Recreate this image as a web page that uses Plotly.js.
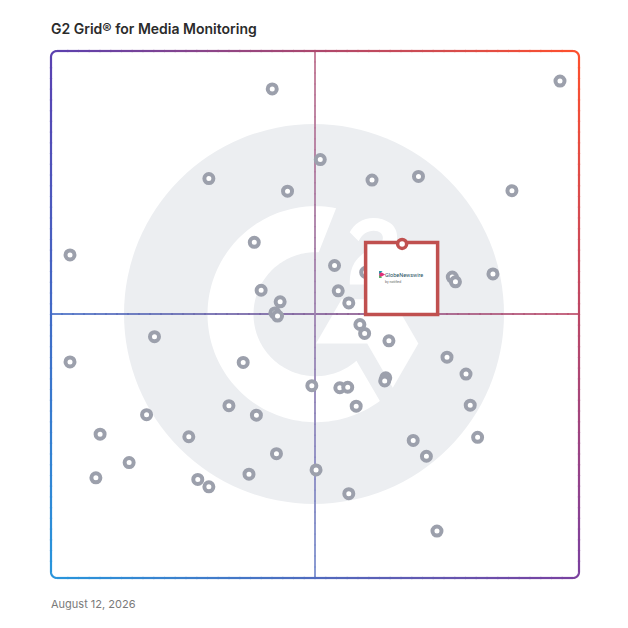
<!DOCTYPE html>
<html><head><meta charset="utf-8">
<script src="https://cdn.plot.ly/plotly-3.0.1.min.js"></script>
<style>html,body{margin:0;padding:0;background:#fff;}#chart{width:628px;height:628px;}</style>
</head><body><div id="chart"></div>
<script>
// ---- data (0-100 scale: x = satisfaction, y = market presence) ----
const productX = [96.4,41.9,51.0,29.9,44.8,60.8,69.6,87.3,38.5,3.6,53.7,59.6,76.0,76.6,83.7,54.4,39.8,43.4,56.4,42.4,42.9,19.6,58.5,59.4,64.0,3.6,36.4,75.0,78.6,63.4,63.2,49.4,54.7,56.2,57.8,33.7,38.9,18.1,79.4,9.3,26.1,68.6,80.8,71.1,42.7,14.8,50.2,8.5,27.8,29.9,37.5,56.4,73.1];
const productY = [94.3,92.8,79.4,75.8,73.4,75.5,76.2,73.5,63.7,61.3,59.3,58.0,57.1,56.2,57.7,54.5,54.6,52.4,52.2,50.3,49.7,45.8,48.1,46.4,45.0,41.0,40.9,41.9,38.7,38.0,37.4,36.5,36.1,36.2,32.6,32.7,30.9,31.0,32.8,27.3,26.8,26.1,26.7,23.1,23.6,21.9,20.5,19.0,18.7,17.3,19.7,16.0,8.9];
const highlightName = ['GlobeNewswire'];
const highlightSub = ['by notified'];
const highlightX = [66.5];
const highlightY = [63.4];
const titleText = 'G2 Grid® for Media Monitoring';
const dateText = 'August 12, 2026';

// ---- pixel <-> data helpers (frame 51..579 x 51..578) ----
const FL=51, FR=579, FT=51, FB=578;
const sx=(FR-FL)/100, sy=(FB-FT)/100;
const dx = p => (p-FL)/sx;
const dy = p => (FB-p)/sy;
const pxOf = x => FL + x*sx;
const pyOf = y => FB - y*sy;
const P = (x,y) => dx(x).toFixed(3)+','+dy(y).toFixed(3);
const poly = pts => 'M'+pts.map(p=>P(p[0],p[1])).join(' L')+' Z';
// paper coords (plot area 41..589 x 41..588)
const ppx = p => (p-41)/548, ppy = p => (588-p)/547;

const shapes=[];

// ---- G2 watermark ----
shapes.push({type:'circle',layer:'below',xref:'x',yref:'y',x0:dx(124),x1:dx(504),y0:dy(504),y1:dy(124),fillcolor:'#eceef1',line:{width:0}});
(function(){
  const cx=315.5, cy=314.2, R=108, r=62;
  const pts=[];
  for(let a=-79;a>=-306.6;a-=2){const t=a*Math.PI/180;pts.push([cx+R*Math.cos(t),cy+R*Math.sin(t)]);}
  {const t=-306.6*Math.PI/180;pts.push([cx+R*Math.cos(t),cy+R*Math.sin(t)]);}
  for(let a=-311.3;a<=-87;a+=2){const t=a*Math.PI/180;pts.push([cx+r*Math.cos(t),cy+r*Math.sin(t)]);}
  {const t=-87*Math.PI/180;pts.push([cx+r*Math.cos(t),cy+r*Math.sin(t)]);}
  shapes.push({type:'path',layer:'below',xref:'x',yref:'y',path:poly(pts),fillcolor:'#ffffff',line:{width:0}});
})();
// logo-unit mapping
const LX = u => 316 + (u-99.87)*1.81;
const LY = v => 343.5 + (v-117.32)*1.81;
const LP = (u,v) => P(LX(u),LY(v));
shapes.push({type:'path',layer:'below',xref:'x',yref:'y',fillcolor:'#ffffff',line:{width:0},
  path:'M'+[[142.29,92.84],[114.01,92.84],[99.87,117.32],[128.15,117.32],[142.29,141.82],[156.43,117.32]].map(p=>LP(p[0],p[1])).join(' L')+' Z'});
(function(){
  const segs=[
    ['M',[144.57,77.6]],['L',[127.47,77.6]],
    ['C',[127.93,74.92,129.59,73.42,132.95,71.72]],['L',[136.09,70.12]],
    ['C',[141.71,67.24,144.71,63.98,144.71,58.66]],
    ['C',[144.71,55.4,143.4,52.6,140.83,50.76]],
    ['C',[138.29,48.86,135.17,47.92,131.57,47.92]],
    ['C',[128.7,47.92,126,48.7,123.71,50.16]],
    ['C',[121.5,51.6,119.7,53.5,118.51,55.84]],
    ['L',[123.45,60.8]],
    ['C',[125.37,56.92,128.15,55.02,131.81,55.02]],
    ['C',[134.91,55.02,136.81,56.62,136.81,58.84]],
    ['C',[136.81,60.7,135.89,62.24,132.33,64.04]],
    ['L',[130.31,65.04]],
    ['C',[125.93,67.26,122.89,69.8,121.13,72.68]],
    ['C',[119.37,75.56,118.51,79.18,118.51,83.54]],
    ['L',[118.51,84.74]],['L',[144.35,84.74]],['L',[144.35,77.6]]
  ];
  let d='';
  segs.forEach(s=>{const n=s[1];const parts=[];for(let i=0;i<n.length;i+=2)parts.push(LP(n[i],n[i+1]));d+=s[0]+parts.join(' ')+' ';});
  d+='Z';
  shapes.push({type:'path',layer:'below',xref:'x',yref:'y',path:d,fillcolor:'#ffffff',line:{width:0}});
})();

// ---- gradient frame ----
const cTL=[90,64,176], cTR=[255,80,44], cBL=[40,150,220], cBR=[122,64,160];
function grad(u,v,a){
  let c=[0,1,2].map(i=>(1-u)*(1-v)*cTL[i]+u*(1-v)*cTR[i]+(1-u)*v*cBL[i]+u*v*cBR[i]);
  if(a!=null) c=c.map(k=>255-(255-k)*a);
  return 'rgb('+c.map(Math.round).join(',')+')';
}
const uOf = x => (x-FL)/(FR-FL), vOf = y => (y-FT)/(FB-FT);
function gradLine(x0,y0,x1,y1,n,w,alpha){
  const L=Math.hypot(x1-x0,y1-y0), ex=(x1-x0)/L*0.7, ey=(y1-y0)/L*0.7;
  for(let i=0;i<n;i++){
    const a=i/n,b=(i+1)/n;
    let xa=x0+(x1-x0)*a, ya=y0+(y1-y0)*a, xb=x0+(x1-x0)*b, yb=y0+(y1-y0)*b;
    const col=grad(uOf((xa+xb)/2),vOf((ya+yb)/2),alpha);
    if(i>0){xa-=ex;ya-=ey;}
    if(i<n-1){xb+=ex;yb+=ey;}
    shapes.push({type:'line',layer:'below',xref:'x',yref:'y',x0:dx(xa),y0:dy(ya),x1:dx(xb),y1:dy(yb),
      line:{color:col,width:w}});
  }
}
// quadrant lines
gradLine(FL,314,FR,314,48,1.7,0.97);
gradLine(315,FT,315,FB,48,1.8,0.75);
const rad=6, bw=2.2;
gradLine(FL+rad,FT,FR-rad,FT,48,bw);
gradLine(FR,FT+rad,FR,FB-rad,48,bw);
gradLine(FR-rad,FB,FL+rad,FB,48,bw);
gradLine(FL,FB-rad,FL,FT+rad,48,bw);
function corner(cx,cy,a0,a1){
  const pts=[];
  for(let k=0;k<=10;k++){const t=(a0+(a1-a0)*k/10)*Math.PI/180;pts.push([cx+rad*Math.cos(t),cy+rad*Math.sin(t)]);}
  shapes.push({type:'path',layer:'below',xref:'x',yref:'y',path:'M'+pts.map(p=>P(p[0],p[1])).join(' L'),
    fillcolor:'rgba(0,0,0,0)',line:{color:grad(uOf(cx),vOf(cy)),width:bw}});
}
corner(FL+rad,FT+rad,180,270);
corner(FR-rad,FT+rad,270,360);
corner(FR-rad,FB-rad,0,90);
corner(FL+rad,FB-rad,90,180);

// ---- highlighted product box (offset in pixels from its pin) ----
const hpx = pxOf(highlightX[0]), hpy = pyOf(highlightY[0]);
const boxX=[dx(hpx-0.5)], boxY=[dy(hpy+34.5)];
// tiny GlobeNewswire icon
[[[hpx-23,hpy+27],[hpx-17,hpy+30.5],[hpx-23,hpy+34],'#e0307a'],
 [[hpx-23,hpy+27],[hpx-19.5,hpy+27],[hpx-23,hpy+30],'#1a9aa8'],
 [[hpx-23,hpy+31],[hpx-20,hpy+34],[hpx-23,hpy+34],'#4cb860']].forEach(t=>{
  shapes.push({type:'path',layer:'above',xref:'x',yref:'y',path:poly([t[0],t[1],t[2]]),fillcolor:t[3],line:{width:0}});
});

const traces=[
  {type:'scatter',mode:'markers',x:productX,y:productY,hoverinfo:'skip',
   marker:{size:9,color:'#ffffff',line:{color:'#9ca0ac',width:4}}},
  {type:'scatter',mode:'markers',x:boxX,y:boxY,hoverinfo:'skip',
   marker:{symbol:'square',size:72,color:'#ffffff',line:{color:'#c0504f',width:3.5}}},
  {type:'scatter',mode:'markers',x:highlightX,y:highlightY,text:highlightName,hoverinfo:'text',
   marker:{size:9,color:'#ffffff',line:{color:'#c0504f',width:3.5}}}
];

const annotations=[
  {xref:'paper',yref:'paper',x:ppx(49),y:ppy(29),xanchor:'left',yanchor:'middle',showarrow:false,text:titleText,
   font:{family:'Inter, "Noto Sans", sans-serif',size:14,weight:600,color:'#2b2b2b'}},
  {xref:'paper',yref:'paper',x:ppx(49),y:ppy(604),xanchor:'left',yanchor:'middle',showarrow:false,text:dateText,
   font:{family:'Inter, "Noto Sans", sans-serif',size:11,color:'#7a7a7a'}},
  {xref:'x',yref:'y',x:highlightX[0],y:highlightY[0],xshift:2,yshift:-31,xanchor:'center',yanchor:'middle',showarrow:false,
   text:highlightName[0],font:{family:'Roboto, sans-serif',size:5.5,color:'#23505f'}},
  {xref:'x',yref:'y',x:highlightX[0],y:highlightY[0],xshift:-9,yshift:-38,xanchor:'center',yanchor:'middle',showarrow:false,
   text:highlightSub[0],font:{family:'Roboto, sans-serif',size:3.5,color:'#666666'}}
];

const layout={width:628,height:628,margin:{l:41,r:39,t:41,b:40},
  paper_bgcolor:'#ffffff',plot_bgcolor:'#ffffff',showlegend:false,hovermode:false,
  xaxis:{range:[dx(41),dx(589)],visible:false,fixedrange:true},
  yaxis:{range:[dy(588),dy(41)],visible:false,fixedrange:true},
  shapes:shapes,annotations:annotations};
Plotly.newPlot('chart',traces,layout,{displayModeBar:false,staticPlot:true});
</script></body></html>
